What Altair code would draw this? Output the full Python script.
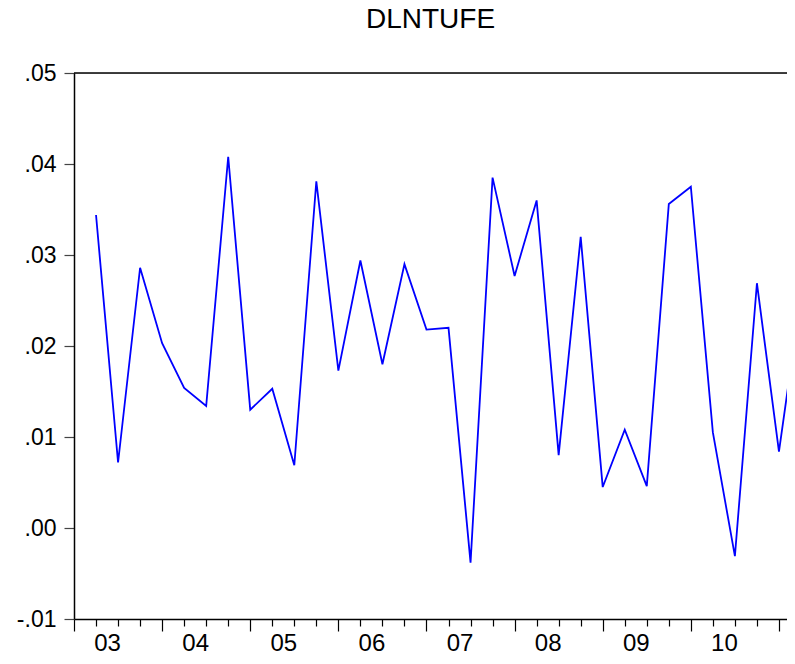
import altair as alt
import pandas as pd

TITLE = "DLNTUFE"
FONT = "Liberation Sans"

QUARTERS = [
    "2003Q2", "2003Q3", "2003Q4",
    "2004Q1", "2004Q2", "2004Q3", "2004Q4",
    "2005Q1", "2005Q2", "2005Q3", "2005Q4",
    "2006Q1", "2006Q2", "2006Q3", "2006Q4",
    "2007Q1", "2007Q2", "2007Q3", "2007Q4",
    "2008Q1", "2008Q2", "2008Q3", "2008Q4",
    "2009Q1", "2009Q2", "2009Q3", "2009Q4",
    "2010Q1", "2010Q2", "2010Q3", "2010Q4",
    "2011Q1", "2011Q2",
]
VALUES = [
    0.0344, 0.0072, 0.0286,
    0.0203, 0.0154, 0.0134, 0.0408,
    0.0130, 0.0153, 0.0069, 0.0381,
    0.0173, 0.0294, 0.0180, 0.0290,
    0.0218, 0.0220, -0.0038, 0.0385,
    0.0277, 0.0360, 0.0080, 0.0320,
    0.0045, 0.0108, 0.0046, 0.0356,
    0.0375, 0.0105, -0.0031, 0.0269,
    0.0084, 0.0256,
]
YEAR_LABELS = ["03", "04", "05", "06", "07", "08", "09", "10"]
Y_TICKS = [-0.01, 0.0, 0.01, 0.02, 0.03, 0.04, 0.05]

PLOT_W = 713
QUARTER_PX = 22.03
X_DOMAIN = [0, PLOT_W / QUARTER_PX]
Y_DOMAIN = [-0.01, 0.05]


def q_index(q):
    return (int(q[:4]) - 2003) * 4 + int(q[-1]) - 1


df = pd.DataFrame({
    "t": [q_index(q) for q in QUARTERS],
    "value": VALUES,
    "quarter": QUARTERS,
})

minor_vals = list(range(0, 33))
label_vals = [4 * i + 1.5 for i in range(len(YEAR_LABELS))]
x_values = sorted(minor_vals + label_vals)
labels_js = "[" + ",".join("'" + s + "'" for s in YEAR_LABELS) + "]"
x_label_expr = "(datum.value % 1 !== 0) ? " + labels_js + "[floor(datum.value / 4)] : ''"

x_axis = alt.Axis(
    values=x_values,
    labelExpr=x_label_expr,
    title=None,
    grid=False,
    domain=True,
    domainColor="black",
    domainWidth=1.5,
    ticks=True,
    tickColor="black",
    tickWidth=1.2,
    tickSize={"condition": {"test": "datum.value % 4 === 0", "value": 12}, "value": 7},
    tickOpacity={"condition": {"test": "datum.value % 1 !== 0", "value": 0}, "value": 1},
    labelFont=FONT,
    labelFontSize=24,
    labelColor="black",
    labelBaseline="alphabetic",
    labelPadding=24,
    labelOverlap=False,
    labelFlush=False,
    labelBound=False,
)

y_label_expr = (
    "datum.value < 0 ? '-' + replace(format(-datum.value, '.2f'), '0.', '.')"
    " : replace(format(datum.value, '.2f'), '0.', '.')"
)
y_axis = alt.Axis(
    values=Y_TICKS,
    labelExpr=y_label_expr,
    title=None,
    grid=False,
    domain=True,
    domainColor="black",
    domainWidth=1.5,
    ticks=True,
    tickColor="#444444",
    tickWidth=1.2,
    tickSize=10,
    labelFont=FONT,
    labelFontSize=23,
    labelColor="black",
    labelPadding=8,
    labelOverlap=False,
    labelFlush=False,
)

line = alt.Chart(df).mark_line(color="#0000FF", strokeWidth=1.8, clip=True).encode(
    x=alt.X("t:Q", scale=alt.Scale(domain=X_DOMAIN, nice=False, zero=False), axis=x_axis),
    y=alt.Y("value:Q", scale=alt.Scale(domain=Y_DOMAIN, nice=False, zero=False), axis=y_axis),
)

top_border = alt.Chart(pd.DataFrame({"top": [Y_DOMAIN[1]]})).mark_rule(
    color="black", strokeWidth=1.5
).encode(y=alt.Y("top:Q"))

chart = alt.layer(line, top_border).properties(
    width=PLOT_W,
    height=546,
    title=alt.TitleParams(
        TITLE, font=FONT, fontSize=28, fontWeight="normal", color="black",
        anchor="middle", frame="group", baseline="alphabetic", offset=6,
    ),
    autosize=alt.AutoSizeParams(type="none"),
    padding={"left": 66, "top": 65, "right": 0, "bottom": 36},
).configure_view(stroke=None).configure(background="white")

chart.save("out.html", embed_options={"renderer": "svg", "actions": False})
